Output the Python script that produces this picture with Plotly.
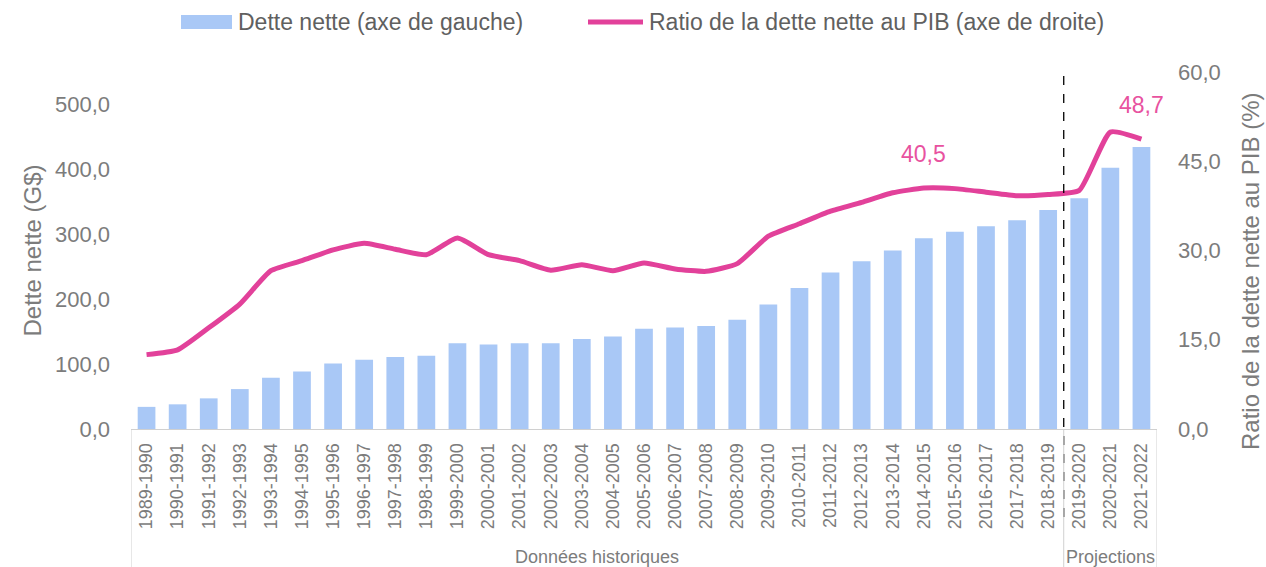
import plotly.graph_objects as go

# ---- data ----
categories = ["1989-1990", "1990-1991", "1991-1992", "1992-1993", "1993-1994", "1994-1995",
              "1995-1996", "1996-1997", "1997-1998", "1998-1999", "1999-2000", "2000-2001",
              "2001-2002", "2002-2003", "2003-2004", "2004-2005", "2005-2006", "2006-2007",
              "2007-2008", "2008-2009", "2009-2010", "2010-2011", "2011-2012", "2012-2013",
              "2013-2014", "2014-2015", "2015-2016", "2016-2017", "2017-2018", "2018-2019",
              "2019-2020", "2020-2021", "2021-2022"]
dette_nette = [34.1, 38.0, 47.2, 61.5, 79.0, 88.7, 101.0, 106.7, 110.8, 112.8, 132.3, 130.3,
               132.3, 132.3, 138.5, 142.6, 154.3, 156.4, 158.5, 168.2, 191.8, 217.4, 241.0,
               258.5, 274.9, 293.8, 304.0, 312.3, 321.5, 337.4, 355.4, 402.6, 434.3]
ratio_pib = [12.5, 13.3, 17.0, 21.0, 26.6, 28.3, 30.1, 31.2, 30.2, 29.3, 32.1, 29.3,
             28.3, 26.7, 27.6, 26.6, 27.9, 26.9, 26.5, 27.8, 32.4, 34.5, 36.6,
             38.1, 39.7, 40.5, 40.4, 39.8, 39.2, 39.4, 40.1, 49.9, 48.7]
left_ticks = [0, 100, 200, 300, 400, 500]
right_ticks = [0, 15, 30, 45, 60]
labelled_points = ["2014-2015", "2021-2022"]
groups = [("Données historiques", 0, 29), ("Projections", 30, 32)]

BAR_COLOR = "#a9c8f6"
LINE_COLOR = "#e2419a"
LABEL_PINK = "#e8529f"
TEXT = "#7c7c7c"
FONT = "Liberation Sans"

W, H = 1266, 567
L, R, T, B = 131, 1157, 72, 429


def px_x(p):
    return (p - L) / (R - L)


def px_y(p):
    return (B - p) / (B - T)


fig = go.Figure()
fig.add_trace(go.Bar(x=categories, y=dette_nette, name="Dette nette (axe de gauche)",
                     marker=dict(color=BAR_COLOR, line=dict(width=0)), showlegend=False))
fig.add_trace(go.Scatter(x=categories, y=ratio_pib, yaxis="y2", mode="lines",
                         name="Ratio de la dette nette au PIB (axe de droite)",
                         line=dict(color=LINE_COLOR, width=5, shape="spline", smoothing=0.5),
                         showlegend=False))

shapes = []
annotations = []

# dashed separator between historical data and projections
sep = len(categories) - 3 - 0.5
shapes.append(dict(type="line", xref="x", yref="paper", x0=sep, x1=sep,
                   y0=px_y(517), y1=px_y(68), line=dict(color="#000000", width=1.3, dash="dash")))
# category group box lines
for xv in [-0.5, sep, len(categories) - 0.5]:
    shapes.append(dict(type="line", xref="x", yref="paper", x0=xv, x1=xv,
                       y0=0, y1=px_y(575), line=dict(color="#d0d0d0", width=1)))
for name, a, b in groups:
    annotations.append(dict(x=(a + b) / 2, y=px_y(557), xref="x", yref="paper", text=name,
                            showarrow=False, font=dict(family=FONT, size=18, color=TEXT),
                            xanchor="center", yanchor="middle"))

# value labels
for cat in labelled_points:
    i = categories.index(cat)
    annotations.append(dict(x=cat, y=ratio_pib[i], xref="x", yref="y2",
                            text=f"{ratio_pib[i]:.1f}".replace(".", ","), showarrow=False,
                            yshift=34, font=dict(family=FONT, size=23, color=LABEL_PINK),
                            xanchor="center", yanchor="middle"))

# right axis title
annotations.append(dict(x=px_x(1250), y=px_y(271), xref="paper", yref="paper",
                        text="Ratio de la dette nette au PIB (%)", textangle=-90, showarrow=False,
                        font=dict(family=FONT, size=24, color=TEXT),
                        xanchor="center", yanchor="middle"))

# legend (drawn)
shapes.append(dict(type="rect", xref="paper", yref="paper", x0=px_x(181), x1=px_x(232),
                   y0=px_y(29), y1=px_y(15), fillcolor=BAR_COLOR, line=dict(width=0)))
annotations.append(dict(x=px_x(236), y=px_y(22), xref="paper", yref="paper",
                        text="Dette nette (axe de gauche)", showarrow=False,
                        font=dict(family=FONT, size=23, color="#606060"),
                        xanchor="left", yanchor="middle"))
shapes.append(dict(type="line", xref="paper", yref="paper", x0=px_x(588), x1=px_x(643),
                   y0=px_y(22), y1=px_y(22), line=dict(color=LINE_COLOR, width=5)))
annotations.append(dict(x=px_x(647), y=px_y(22), xref="paper", yref="paper",
                        text="Ratio de la dette nette au PIB (axe de droite)", showarrow=False,
                        font=dict(family=FONT, size=23, color="#606060"),
                        xanchor="left", yanchor="middle"))

fig.update_layout(
    width=W, height=H,
    margin=dict(l=L, r=W - R, t=T, b=H - B, autoexpand=False),
    paper_bgcolor="white", plot_bgcolor="white",
    separators=", ",
    bargap=0.43,
    font=dict(family=FONT, color=TEXT),
    showlegend=False,
    xaxis=dict(type="category", range=[-0.5, len(categories) - 0.5], tickangle=-90,
               tickfont=dict(family=FONT, size=18, color=TEXT), showline=True,
               linecolor="#d0d0d0", linewidth=1, ticks="", showgrid=False, automargin=False,
               ticklabelstandoff=6),
    yaxis=dict(range=[0, 550], tickvals=left_ticks, tickformat=".1f",
               tickfont=dict(family=FONT, size=22, color=TEXT), showgrid=False,
               zeroline=False, showline=False, ticks="", ticklabelstandoff=20,
               title=dict(text="Dette nette (G$)", font=dict(family=FONT, size=24, color=TEXT),
                          standoff=6),
               automargin=False),
    yaxis2=dict(range=[0, 60], tickvals=right_ticks, tickformat=".1f", overlaying="y",
                side="right", tickfont=dict(family=FONT, size=22, color=TEXT), showgrid=False,
                zeroline=False, showline=False, ticks="", ticklabelstandoff=20,
                automargin=False),
    shapes=shapes,
    annotations=annotations,
)

fig.write_html("out.html", config={"displayModeBar": False},
               post_script="document.body.style.margin='0';")
